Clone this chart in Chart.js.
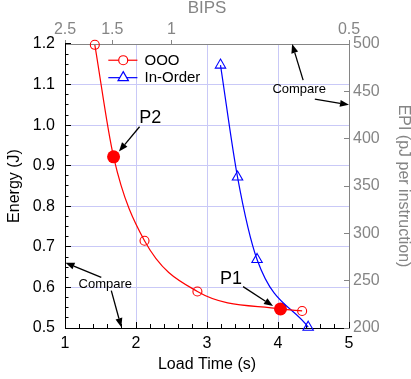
<!DOCTYPE html>
<html><head><meta charset="utf-8">
<script src="https://cdn.jsdelivr.net/npm/chart.js@4/dist/chart.umd.min.js"></script>
<style>html,body{margin:0;padding:0;background:#fff;}#wrap{width:411px;height:379px;}</style>
</head><body><div id="wrap"><canvas id="c" width="411" height="379"></canvas></div>
<script>
// ---- data ----
const oooTime      = [1.42, 1.684, 2.12, 2.865, 4.035, 4.34];
const oooEnergy    = [1.198, 0.922, 0.715, 0.590, 0.547, 0.542];
const inOrderTime  = [3.19, 3.43, 3.705, 4.425];
const inOrderEnergy= [1.148, 0.872, 0.669, 0.502];
const pointTime    = [1.684, 4.035];
const pointEnergy  = [0.922, 0.547];
const pointLabels  = ['P2', 'P1'];
const xTicks   = [1, 2, 3, 4, 5];
const yTicks   = [0.5, 0.6, 0.7, 0.8, 0.9, 1.0, 1.1, 1.2];
const bipsTicks= [2.5, 1.5, 1, 0.5];
const epiTicks = [200, 250, 300, 350, 400, 450, 500];
const seriesNames = ['OOO', 'In-Order'];

const FONT = "'Liberation Sans', Arial, Helvetica, sans-serif";
const GRID = '#c9c9f7';
const GRAY = '#858585';

function toXY(xs, ys){ return xs.map((v,i)=>({x:v, y:ys[i]})); }

function align(p){ return Math.round(p-0.5)+0.5; }

function arrow(ctx, x1, y1, x2, y2){
  const ang = Math.atan2(y2-y1, x2-x1);
  const hl = 9, hw = 3.5;
  const bx = x2 - Math.cos(ang)*hl, by = y2 - Math.sin(ang)*hl;
  ctx.beginPath(); ctx.moveTo(x1,y1); ctx.lineTo(bx,by); ctx.stroke();
  ctx.beginPath();
  ctx.moveTo(x2,y2);
  ctx.lineTo(bx - Math.sin(ang)*hw, by + Math.cos(ang)*hw);
  ctx.lineTo(bx + Math.sin(ang)*hw, by - Math.cos(ang)*hw);
  ctx.closePath(); ctx.fill();
}

const tickPlugin = {
  id:'inTicks',
  beforeDatasetsDraw(chart){
    const {ctx, chartArea:a, scales:{x, y, yR}} = chart;
    ctx.save(); ctx.lineWidth = 1;
    ctx.strokeStyle = '#000'; ctx.beginPath();
    for (let i=0;i<=28;i++){
      const py = align(y.getPixelForValue(yTicks[0] + i*0.025));
      const len = i%4===0 ? 6 : 3.5;
      ctx.moveTo(a.left, py); ctx.lineTo(a.left+len, py);
    }
    for (let i=0;i<=20;i++){
      const px = align(x.getPixelForValue(xTicks[0] + i*0.2));
      const len = i%5===0 ? 6 : 4;
      ctx.moveTo(px, a.bottom); ctx.lineTo(px, a.bottom-len);
    }
    ctx.stroke();
    ctx.strokeStyle = GRAY; ctx.beginPath();
    epiTicks.forEach(v=>{
      const py = align(yR.getPixelForValue(v));
      ctx.moveTo(a.right, py); ctx.lineTo(a.right-5, py);
    });
    ctx.stroke();
    ctx.restore();
  }
};

const annotPlugin = {
  id:'annot',
  afterDraw(chart){
    const {ctx, scales:{x, y}} = chart;
    const X = v=>x.getPixelForValue(v), Y = v=>y.getPixelForValue(v);
    ctx.save();
    // legend
    const lx0 = X(1.61), lx1 = X(2.02), lmx = X(1.82), ltx = X(2.12);
    const ly = [Y(1.16), Y(1.117)];
    ctx.lineWidth = 1.2;
    ctx.font = "15px " + FONT; ctx.textBaseline = 'middle'; ctx.textAlign = 'left';
    // OOO
    ctx.strokeStyle = 'red';
    ctx.beginPath(); ctx.moveTo(lx0, ly[0]); ctx.lineTo(lx1, ly[0]); ctx.stroke();
    ctx.fillStyle = '#fff';
    ctx.beginPath(); ctx.arc(lmx, ly[0], 4.5, 0, Math.PI*2); ctx.fill(); ctx.stroke();
    ctx.fillStyle = '#000'; ctx.fillText(seriesNames[0], ltx, ly[0]+0.5);
    // In-Order
    ctx.strokeStyle = 'blue';
    ctx.beginPath(); ctx.moveTo(lx0, ly[1]); ctx.lineTo(lx1, ly[1]); ctx.stroke();
    const r = 6;
    ctx.fillStyle = '#fff';
    ctx.beginPath();
    ctx.moveTo(lmx, ly[1]-r);
    ctx.lineTo(lmx + r*Math.sin(2*Math.PI/3), ly[1] - r*Math.cos(2*Math.PI/3));
    ctx.lineTo(lmx + r*Math.sin(4*Math.PI/3), ly[1] - r*Math.cos(4*Math.PI/3));
    ctx.closePath(); ctx.fill(); ctx.stroke();
    ctx.fillStyle = '#000'; ctx.fillText(seriesNames[1], ltx, ly[1]+0.5);

    // annotations
    ctx.strokeStyle = '#000'; ctx.fillStyle = '#000'; ctx.lineWidth = 1.3;
    ctx.textAlign = 'center'; ctx.textBaseline = 'middle';
    ctx.font = "18px " + FONT;
    ctx.fillText(pointLabels[0], X(2.20), Y(1.018));
    arrow(ctx, X(2.05), Y(0.996), X(1.76), Y(0.935));
    ctx.fillText(pointLabels[1], X(3.338), Y(0.620));
    arrow(ctx, X(3.508), Y(0.602), X(3.93), Y(0.554));
    ctx.font = "13px " + FONT;
    ctx.fillText('Compare', X(4.298), Y(1.087));
    arrow(ctx, X(4.354), Y(1.111), X(4.199), Y(1.2));
    arrow(ctx, X(4.519), Y(1.064), X(5.0), Y(1.050));
    ctx.fillText('Compare', X(1.567), Y(0.608));
    arrow(ctx, X(1.511), Y(0.625), X(1.007), Y(0.661));
    arrow(ctx, X(1.652), Y(0.592), X(1.793), Y(0.502));
    ctx.restore();
  }
};

new Chart(document.getElementById('c'), {
  type: 'scatter',
  data: {
    datasets: [
      { label: seriesNames[0], data: toXY(oooTime, oooEnergy), showLine: true,
        borderColor: 'red', borderWidth: 1.2, backgroundColor: 'rgba(0,0,0,0)',
        pointStyle: 'circle', pointRadius: [4.5,0,4.5,4.5,0,4.5], pointBorderWidth: 1.1,
        pointBorderColor: 'red', pointBackgroundColor: 'rgba(0,0,0,0)',
        cubicInterpolationMode: 'monotone', clip: false, xAxisID:'x', yAxisID:'y' },
      { label: seriesNames[1], data: toXY(inOrderTime, inOrderEnergy), showLine: true,
        borderColor: 'blue', borderWidth: 1.2, backgroundColor: 'rgba(0,0,0,0)',
        pointStyle: 'triangle', pointRadius: 6, pointBorderWidth: 1.1,
        pointBorderColor: 'blue', pointBackgroundColor: 'rgba(0,0,0,0)',
        cubicInterpolationMode: 'monotone', clip: false, xAxisID:'x', yAxisID:'y' },
      { label: 'points', data: toXY(pointTime, pointEnergy), showLine: false,
        pointRadius: 6.5, pointBackgroundColor: 'red', pointBorderColor: 'red', pointBorderWidth: 0,
        clip: false, xAxisID:'x', yAxisID:'y' }
    ]
  },
  options: {
    responsive: false, animation: false, devicePixelRatio: 1,
    layout: { padding: 0 },
    plugins: { legend: { display: false }, tooltip: { enabled: false } },
    scales: {
      x: { type:'linear', position:'bottom', min: xTicks[0], max: xTicks[xTicks.length-1],
        afterBuildTicks: s => { s.ticks = xTicks.map(v=>({value:v})); },
        afterFit: s => { s.height = 51; },
        grid: { color: GRID, lineWidth: 1, drawTicks: false },
        border: { color: '#000', width: 1 },
        ticks: { color:'#000', font:{family:FONT, size:16}, padding: 6, maxRotation:0, autoSkip:false },
        title: { display:true, text:'Load Time (s)', color:'#000', font:{family:FONT, size:16, lineHeight:1}, padding:{top:0,bottom:6} } },
      xTop: { type:'linear', position:'top', min: xTicks[0], max: xTicks[xTicks.length-1],
        afterBuildTicks: s => { s.ticks = bipsTicks.map(b=>({value: bipsTicks[0]/b})); },
        afterFit: s => { s.height = 44; },
        grid: { drawOnChartArea:false, drawTicks:true, tickLength:4, color: GRAY },
        border: { color: GRAY, width: 1 },
        ticks: { color: GRAY, font:{family:FONT, size:16}, padding: 1, maxRotation:0, autoSkip:false,
          callback: (v, i) => String(bipsTicks[i]) },
        title: { display:true, text:'BIPS', color: GRAY, font:{family:FONT, size:17, lineHeight:1}, padding:{top:0,bottom:0} } },
      y: { type:'linear', position:'left', min: yTicks[0], max: yTicks[yTicks.length-1],
        afterBuildTicks: s => { s.ticks = yTicks.map(v=>({value:v})); },
        afterFit: s => { s.width = 65; },
        grid: { color: GRID, lineWidth: 1, drawTicks:false },
        border: { color:'#000', width:1 },
        ticks: { color:'#000', font:{family:FONT, size:16}, padding: 10, autoSkip:false,
          callback: v => Number(v).toFixed(1) },
        title: { display:true, text:'Energy (J)', color:'#000', font:{family:FONT, size:16, lineHeight:1}, padding:{top:7,bottom:0} } },
      yR: { type:'linear', position:'right', min: epiTicks[0], max: epiTicks[epiTicks.length-1],
        afterBuildTicks: s => { s.ticks = epiTicks.map(v=>({value:v})); },
        afterFit: s => { s.width = 62; },
        grid: { drawOnChartArea:false, drawTicks:false },
        border: { color: GRAY, width:1 },
        ticks: { color: GRAY, font:{family:FONT, size:16}, padding: 4, autoSkip:false },
        title: { display:true, text:'EPI (pJ per instruction)', color: GRAY, font:{family:FONT, size:16, lineHeight:1}, padding:{top:0,bottom:0} } }
    }
  },
  plugins: [tickPlugin, annotPlugin]
});
</script></body></html>
